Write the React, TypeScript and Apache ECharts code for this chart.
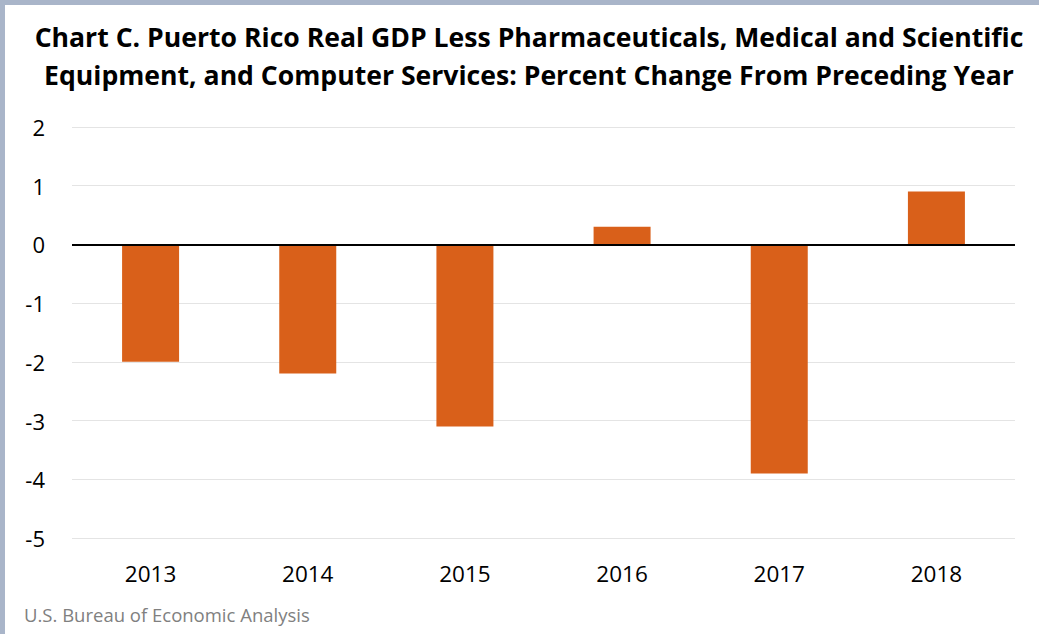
import React, { useEffect, useRef } from "react";
import * as echarts from "echarts";

const categories = ["2013", "2014", "2015", "2016", "2017", "2018"];
const values = [-2.0, -2.2, -3.1, 0.3, -3.9, 0.9];
const titleLines = [
  "Chart C. Puerto Rico Real GDP Less Pharmaceuticals, Medical and Scientific",
  "Equipment, and Computer Services: Percent Change From Preceding Year",
];
const source = "U.S. Bureau of Economic Analysis";

export default function App() {
  const ref = useRef<HTMLDivElement>(null);
  useEffect(() => {
    const chart = echarts.init(ref.current!, null, { renderer: "svg" });
    chart.setOption({
      animation: false,
      backgroundColor: "#ffffff",
      title: {
        text: titleLines.join("\n"),
        left: 524,
        textAlign: "center",
        top: 13,
        textStyle: {
          fontFamily: "Open Sans",
          fontWeight: "bold",
          fontSize: 26.6,
          lineHeight: 38,
          color: "#000",
        },
      },
      graphic: [
        { type: "rect", shape: { x: 0, y: 0, width: 1039, height: 5 }, style: { fill: "#A9B5C9" } },
        { type: "rect", shape: { x: 0, y: 0, width: 5, height: 634 }, style: { fill: "#A9B5C9" } },
        {
          type: "text",
          left: 24,
          top: 605,
          style: { text: source, fontFamily: "Open Sans", fontSize: 18.5, fill: "#808080" },
        },
      ],
      grid: { left: 72, right: 24, top: 127, bottom: 96, containLabel: false },
      xAxis: {
        type: "category",
        data: categories,
        position: "bottom",
        axisLine: { show: false },
        axisTick: { show: false },
        axisLabel: { fontFamily: "Open Sans", fontSize: 22.5, color: "#000", margin: 24 },
      },
      yAxis: {
        type: "value",
        min: -5,
        max: 2,
        interval: 1,
        axisLine: { show: false },
        axisTick: { show: false },
        axisLabel: { fontFamily: "Open Sans", fontSize: 22, color: "#000", margin: 27, align: "right" },
        splitLine: { lineStyle: { color: "#e4e4e4", width: 1 } },
      },
      series: [
        {
          type: "bar",
          data: values,
          barWidth: 57,
          itemStyle: { color: "#D9601A" },
          markLine: {
            silent: true,
            symbol: "none",
            label: { show: false },
            lineStyle: { color: "#000", width: 2, type: "solid" },
            data: [{ yAxis: 0 }],
          },
        },
      ],
    });
    return () => chart.dispose();
  }, []);
  return <div ref={ref} style={{ width: 1039, height: 634, position: "absolute", left: 0, top: 0 }} />;
}
